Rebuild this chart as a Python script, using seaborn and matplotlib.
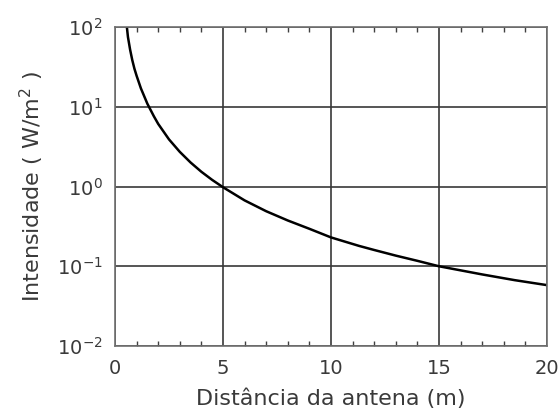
import numpy as np
import pandas as pd
import matplotlib
matplotlib.use("Agg")
import matplotlib.pyplot as plt
import seaborn as sns
from matplotlib.ticker import FixedLocator, MultipleLocator, NullLocator

distancia = [0.55, 0.6, 0.7, 0.8, 0.9, 1.0, 1.2, 1.5, 1.8, 2.0, 2.5, 3.0, 3.5, 4.0, 4.5, 5.0, 6.0, 7.0, 8.0, 9.0, 10.0, 11.3, 12.0, 13.0, 14.0, 15.0, 17.0, 18.5, 20.0]
intensidade = [100, 75, 52, 38.5, 30, 24.5, 17, 10.9, 7.6, 6.1, 3.9, 2.72, 2.0, 1.53, 1.21, 0.98, 0.67, 0.49, 0.375, 0.295, 0.23, 0.18, 0.16, 0.136, 0.117, 0.10, 0.079, 0.067, 0.058]
x_ticks = [0, 5, 10, 15, 20]
y_ticks = [1e-2, 1e-1, 1e0, 1e1, 1e2]
y_tick_labels = [r"$\mathregular{10^{-2}}$", r"$\mathregular{10^{-1}}$", r"$\mathregular{10^{0}}$",
                 r"$\mathregular{10^{1}}$", r"$\mathregular{10^{2}}$"]

df = pd.DataFrame({"d": distancia, "I": intensidade})

sns.set_theme(style="white")
plt.rcParams["font.family"] = ["DejaVu Sans"]
plt.rcParams["mathtext.fontset"] = "dejavusans"
txt = "#3a3a3a"

fig = plt.figure(figsize=(5.59, 4.18), dpi=100)
ax = fig.add_axes([0.2057, 0.1722, 0.9785 - 0.2057, 0.9354 - 0.1722])

sns.lineplot(data=df, x="d", y="I", ax=ax, color="black", linewidth=1.8)
ax.set_yscale("log")
ax.set_xlim(0, 20)
ax.set_ylim(1e-2, 1e2)

ax.xaxis.set_major_locator(FixedLocator(x_ticks))
ax.xaxis.set_minor_locator(MultipleLocator(1))
ax.yaxis.set_major_locator(FixedLocator(y_ticks))
ax.yaxis.set_minor_locator(NullLocator())
ax.set_yticklabels(y_tick_labels)
ax.set_xticklabels([str(v) for v in x_ticks])

ax.grid(True, which="major", color="#383838", linewidth=1.2)
ax.tick_params(axis="both", which="major", length=0, labelsize=14, labelcolor=txt, pad=9)
ax.tick_params(axis="x", which="minor", direction="in", length=3.5, width=1, color="#404040", top=True, bottom=True)
for s in ax.spines.values():
    s.set_color("#707070")
    s.set_linewidth(1.2)

ax.set_xlabel("Distância da antena (m)", fontsize=16, color=txt, labelpad=8)
ax.set_ylabel(r"Intensidade ( W/m$^{2}$ )", fontsize=16, color=txt, labelpad=8)

fig.savefig("out.png", dpi=100, facecolor="white")
